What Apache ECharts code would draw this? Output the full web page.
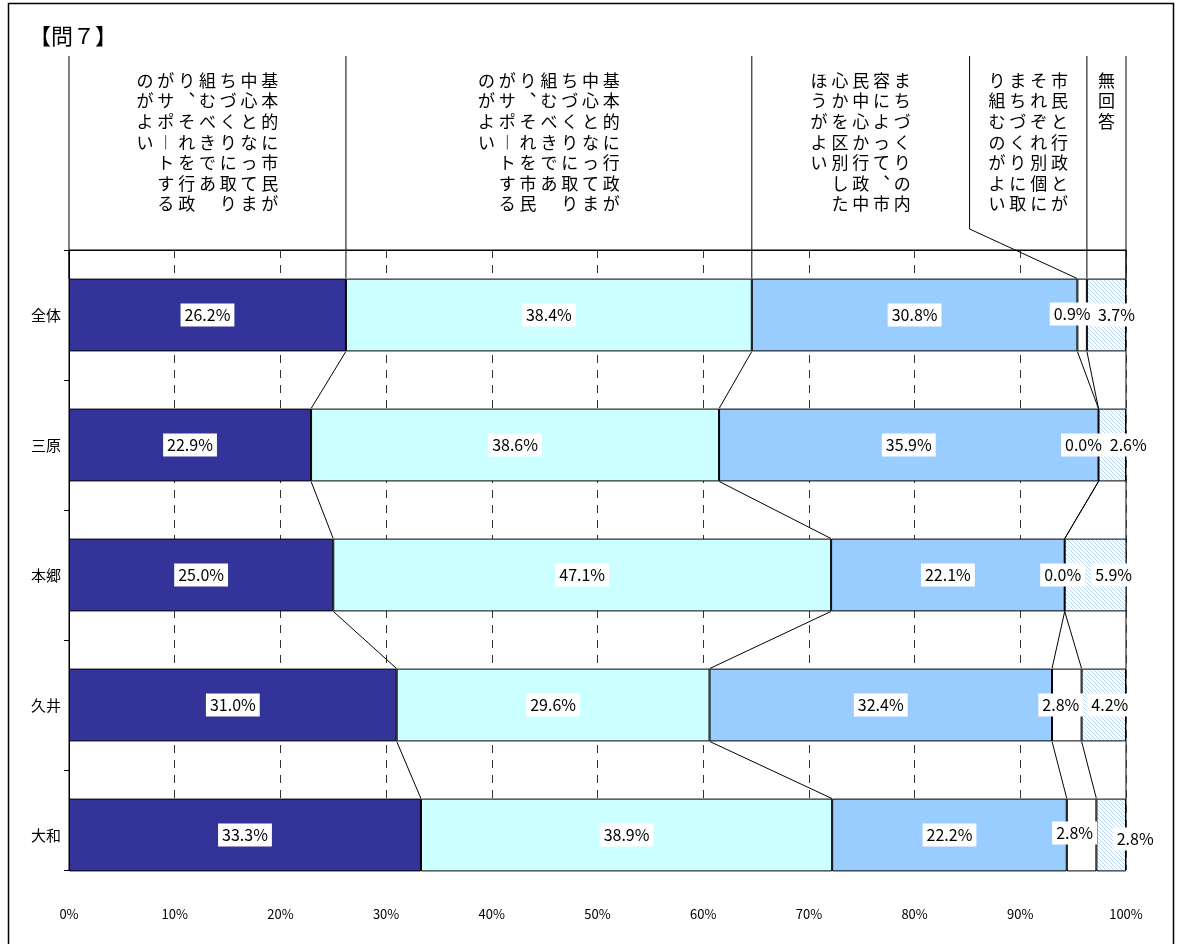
<!DOCTYPE html>
<html>
<head>
<meta charset="utf-8">
<script src="https://cdn.jsdelivr.net/npm/echarts@6/dist/echarts.min.js"></script>
<style>
html, body { margin: 0; padding: 0; background: #fff; }
#main { width: 1178px; height: 944px; }
</style>
</head>
<body>
<div id="main"></div>
<script>
// 地区
var categories = ['全体', '三原', '本郷', '久井', '大和'];

// 選択肢（縦書き、右の列から）
var headerColumns = [
    ['基本的に市民が', '中心となってま', 'ちづくりに取り', '組むべきであ', 'り、それを行政', 'がサポートする', 'のがよい'],
    ['基本的に行政が', '中心となってま', 'ちづくりに取り', '組むべきであ', 'り、それを市民', 'がサポートする', 'のがよい'],
    ['まちづくりの内', '容によって、市', '民中心か行政中', '心かを区別した', 'ほうがよい'],
    ['市民と行政とが', 'それぞれ別個に', 'まちづくりに取', 'り組むのがよい'],
    ['無回答']
];

// 割合(%)
var civic = [26.2, 22.9, 25.0, 31.0, 33.3];
var govt = [38.4, 38.6, 47.1, 29.6, 38.9];
var byContent = [30.8, 35.9, 22.1, 32.4, 22.2];
var separate = [0.9, 0.0, 0.0, 2.8, 2.8];
var noAnswer = [3.7, 2.6, 5.9, 4.2, 2.8];

// 小さい値のラベル位置ずらし
var separateLabelShift = [[-10, -1], [-15, 0], [-2, 0], [-6, 0], [-7, -2]];
var noAnswerLabelShift = [[10, 0], [16, 0], [18, 0], [6, 0], [24, 4]];

var FONT = '"Noto Sans CJK JP", sans-serif';
var BAR_RATIO = 0.56;
var HEADER_TOP = 56;
var HEADER_BREAK = 85.2;     // 4番目の見出し枠の左端(%)
var HEADER_BREAK_Y = 229;
var HEADER_TEXT_TOP = 70;
var COL_PITCH = 20.8;

var all = [civic, govt, byContent, separate, noAnswer];
var cum = [categories.map(function () { return 0; })];
for (var k = 0; k < all.length; k++) {
    cum.push(categories.map(function (c, i) { return cum[k][i] + all[k][i]; }));
}

function vert(ch) {
    if (ch === '、') return '︑';
    if (ch === 'ー') return '︱';
    return ch;
}

function hatch() {
    var c = document.createElement('canvas');
    c.width = 4; c.height = 4;
    var g = c.getContext('2d');
    g.fillStyle = '#fff';
    g.fillRect(0, 0, 4, 4);
    g.strokeStyle = '#b4d6f6';
    g.lineWidth = 1;
    g.beginPath();
    g.moveTo(-1, -1); g.lineTo(5, 5);
    g.moveTo(-1, 3); g.lineTo(1, 5);
    g.moveTo(3, -1); g.lineTo(5, 1);
    g.stroke();
    return c;
}

var labelStyle = {
    show: true,
    position: 'inside',
    color: '#000',
    backgroundColor: '#fff',
    padding: [4, 4, 3, 4],
    fontSize: 16,
    fontFamily: FONT,
    textBorderWidth: 0,
    formatter: function (p) { return (+p.value).toFixed(1) + '%'; }
};

function shifted(values, shifts) {
    return values.map(function (v, i) {
        return { value: v, label: { offset: shifts[i] } };
    });
}

var barColors = ['#333399', '#ccffff', '#99ccff', '#ffffff', { image: hatch(), repeat: 'repeat' }];
var barData = [civic, govt, byContent, shifted(separate, separateLabelShift), shifted(noAnswer, noAnswerLabelShift)];

function renderLinks(params, api) {
    var i = params.dataIndex;
    var yc = api.coord([0, i])[1];
    var band = Math.abs(api.coord([0, 1])[1] - api.coord([0, 0])[1]);
    var half = band * BAR_RATIO / 2;
    var x = function (v) { return api.coord([v, i])[0]; };
    var kids = [];
    var line = function (pts) {
        kids.push({ type: 'polyline', shape: { points: pts }, style: { stroke: '#000', lineWidth: 1, fill: null } });
    };
    if (i < categories.length - 1) {
        var yn = api.coord([0, i + 1])[1];
        for (var k = 1; k < all.length; k++) {
            line([[x(cum[k][i]), yc + half], [x(cum[k][i + 1]), yn - half]]);
        }
    }
    if (i === 0) {
        var top = yc - half;
        line([[x(0), top], [x(0), HEADER_TOP]]);
        line([[x(cum[1][0]), top], [x(cum[1][0]), HEADER_TOP]]);
        line([[x(cum[2][0]), top], [x(cum[2][0]), HEADER_TOP]]);
        line([[x(cum[3][0]), top], [x(HEADER_BREAK), HEADER_BREAK_Y], [x(HEADER_BREAK), HEADER_TOP]]);
        line([[x(cum[4][0]), top], [x(cum[4][0]), HEADER_TOP]]);
        line([[x(100), top], [x(100), HEADER_TOP]]);
        var seps = [0, cum[1][0], cum[2][0], HEADER_BREAK, cum[4][0], 100];
        headerColumns.forEach(function (cols, g) {
            var cx = (x(seps[g]) + x(seps[g + 1])) / 2;
            cols.forEach(function (col, j) {
                kids.push({
                    type: 'text',
                    x: cx + (cols.length - 1) / 2 * COL_PITCH - j * COL_PITCH,
                    y: HEADER_TEXT_TOP,
                    style: {
                        text: col.split('').map(vert).join('\n'),
                        fill: '#000',
                        fontSize: 17,
                        fontFamily: FONT,
                        lineHeight: 20.6,
                        align: 'center',
                        verticalAlign: 'top'
                    }
                });
            });
        });
    }
    return { type: 'group', children: kids };
}

var series = all.map(function (vals, k) {
    return {
        type: 'bar',
        name: headerColumns[k].join(''),
        stack: 'total',
        xAxisIndex: 0,
        yAxisIndex: 0,
        barCategoryGap: '44%',
        itemStyle: { color: barColors[k], borderColor: '#000', borderWidth: 1 },
        label: labelStyle,
        data: barData[k],
        z: 3
    };
});
series.push({
    type: 'custom',
    xAxisIndex: 0,
    yAxisIndex: 0,
    clip: false,
    silent: true,
    z: 4,
    renderItem: renderLinks,
    encode: { x: 0, y: 1 },
    data: categories.map(function (c, i) { return [0, i]; })
});

var option = {
    animation: false,
    backgroundColor: '#fff',
    textStyle: { fontFamily: FONT },
    title: {
        text: '【問７】',
        left: 24,
        top: 20,
        textStyle: { fontSize: 22, fontWeight: 'normal', color: '#000', fontFamily: FONT }
    },
    graphic: [{
        type: 'rect',
        shape: { x: 8.5, y: 3.5, width: 1165, height: 960 },
        style: { fill: null, stroke: '#000', lineWidth: 1.5 },
        silent: true
    }],
    grid: [
        { left: 69, right: 52, top: 250, height: 650 },
        { left: 69, right: 52, top: 250, height: 620, show: true, borderColor: '#000', borderWidth: 1 }
    ],
    xAxis: [
        { gridIndex: 0, type: 'value', min: 0, max: 100, show: false },
        {
            gridIndex: 1, type: 'value', min: 0, max: 100, interval: 10,
            axisLine: { show: true, lineStyle: { color: '#000', width: 1 } },
            axisTick: { show: false },
            axisLabel: { formatter: '{value}%', fontSize: 13, color: '#000', margin: 38 },
            splitLine: { show: true, lineStyle: { type: [8, 7], color: '#333', width: 1 } }
        }
    ],
    yAxis: [
        {
            gridIndex: 0, type: 'category', data: categories, inverse: true,
            axisLine: { show: false },
            axisTick: { show: false },
            axisLabel: { fontSize: 15, color: '#000', margin: 8 },
            splitLine: { show: false }
        },
        {
            gridIndex: 1, type: 'value', inverse: true, min: 0, max: 620 / 130, interval: 1,
            axisLine: { show: true, lineStyle: { color: '#000', width: 1 } },
            axisTick: { show: true, length: 5, lineStyle: { color: '#000' } },
            axisLabel: { show: false },
            splitLine: { show: false }
        }
    ],
    series: series
};

var myChart = echarts.init(document.getElementById('main'));
myChart.setOption(option);
</script>
</body>
</html>
